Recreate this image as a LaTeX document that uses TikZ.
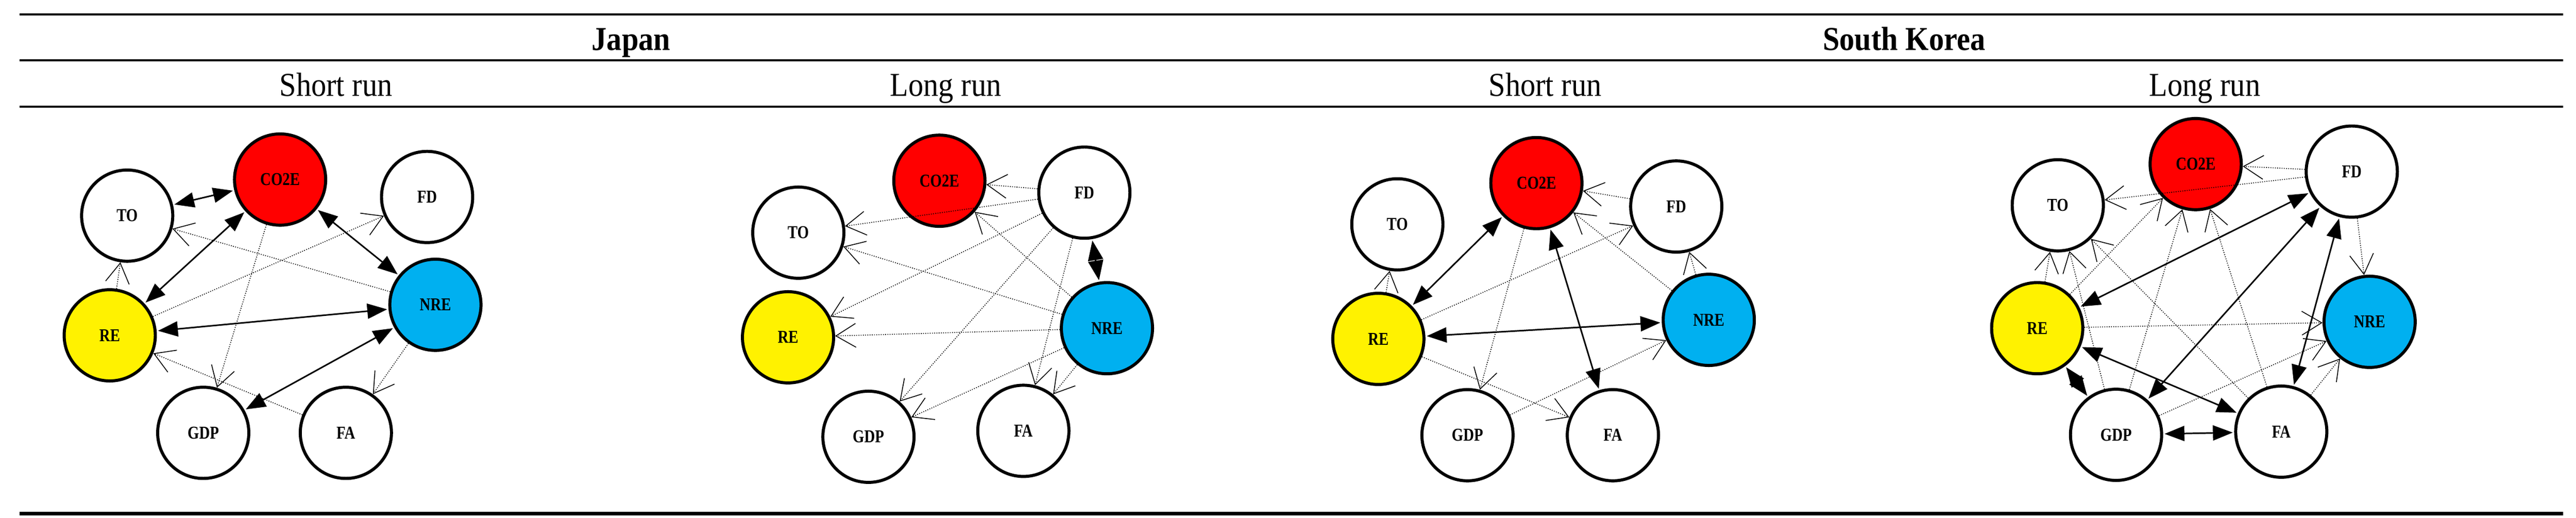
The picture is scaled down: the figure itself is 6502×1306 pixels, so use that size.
\documentclass[tikz,border=0pt]{standalone}
\usepackage{fontspec}
\setmainfont{Liberation Serif}
\newfontfamily\nodefont{Liberation Serif}[FakeStretch=0.82]
\newfontfamily\headfont{Liberation Serif}[FakeStretch=0.9]
\usetikzlibrary{arrows.meta}
\definecolor{nreblue}{RGB}{0,176,240}
\begin{document}
\begin{tikzpicture}[x=0.01cm,y=-0.01cm,
  v/.style={circle,draw=black,line width=2.2pt,minimum size=2.3cm,inner sep=0pt,font=\nodefont\bfseries\fontsize{13}{13}\selectfont},
  bold/.style={line width=1.1pt,{Triangle[length=0.5cm,width=0.38cm]}-{Triangle[length=0.5cm,width=0.38cm]},shorten <=1pt,shorten >=1pt},
  thin/.style={line width=0.6pt,densely dotted,-{Straight Barb[length=0.5cm,width=0.6cm,line width=0.6pt,sep]},arrows={-{Straight Barb[length=0.5cm,width=0.6cm]}}},
  head/.style={font=\headfont\fontsize{24}{24}\selectfont,anchor=base},
  rule/.style={line width=1.5pt}]
\useasboundingbox (0,0) rectangle (6502,1306);
\draw[rule] (50,36) -- (6470,36);
\draw[rule] (50,152) -- (6470,152);
\draw[rule] (50,269) -- (6470,269);
\draw[line width=2.6pt] (50,1296) -- (6470,1296);
\node[head,font=\headfont\bfseries\fontsize{24}{24}\selectfont] (hj) at (1593,127) {Japan};
\node[head,font=\headfont\bfseries\fontsize{24}{24}\selectfont] (hk) at (4806,127) {South Korea};
\node[head] (h1) at (848,243) {Short run};
\node[head] (h2) at (2387,243) {Long run};
\node[head] (h3) at (3900,243) {Short run};
\node[head] (h4) at (5565,243) {Long run};

% Panel 1
\node[v] (to1) at (321,544) {TO};
\node[v,fill=red] (co1) at (707,453) {CO2E};
\node[v] (fd1) at (1078,497) {FD};
\node[v,fill=yellow] (re1) at (277,846) {RE};
\node[v,fill=nreblue] (nr1) at (1099,769) {NRE};
\node[v] (gd1) at (513,1092) {GDP};
\node[v] (fa1) at (873,1092) {FA};
\draw[bold] (to1) -- (co1);
\draw[bold] (co1) -- (nr1);
\draw[bold] (re1) -- (co1);
\draw[bold] (re1) -- (nr1);
\draw[bold] (gd1) -- (nr1);
\draw[thin] (nr1) -- (to1);
\draw[thin] (re1) -- (fd1);
\draw[thin] (re1) -- (to1);
\draw[thin] (co1) -- (gd1);
\draw[thin] (fa1) -- (re1);
\draw[thin] (nr1) -- (fa1);

% Panel 2
\node[v] (to2) at (2015,587) {TO};
\node[v,fill=red] (co2) at (2371,456) {CO2E};
\node[v] (fd2) at (2737,486) {FD};
\node[v,fill=yellow] (re2) at (1989,851) {RE};
\node[v,fill=nreblue] (nr2) at (2794,828) {NRE};
\node[v] (gd2) at (2192,1102) {GDP};
\node[v] (fa2) at (2583,1087) {FA};
\draw[thin] (fd2) -- (co2);
\draw[thin] (fd2) -- (to2);
\draw[thin] (nr2) -- (co2);
\draw[thin] (nr2) -- (to2);
\draw[thin] (fd2) -- (re2);
\draw[thin] (nr2) -- (re2);
\draw[thin] (fd2) -- (gd2);
\draw[thin] (nr2) -- (gd2);
\draw[thin] (fd2) -- (fa2);
\draw[thin] (nr2) -- (fa2);
\draw[bold] (fd2) -- (nr2);

% Panel 3
\node[v] (to3) at (3527,566) {TO};
\node[v,fill=red] (co3) at (3878,462) {CO2E};
\node[v] (fd3) at (4231,521) {FD};
\node[v,fill=yellow] (re3) at (3479,855) {RE};
\node[v,fill=nreblue] (nr3) at (4313,807) {NRE};
\node[v] (gd3) at (3704,1098) {GDP};
\node[v] (fa3) at (4071,1098) {FA};
\draw[bold] (re3) -- (co3);
\draw[bold] (re3) -- (nr3);
\draw[bold] (co3) -- (fa3);
\draw[thin] (fd3) -- (co3);
\draw[thin] (nr3) -- (co3);
\draw[thin] (re3) -- (fd3);
\draw[thin] (nr3) -- (fd3);
\draw[thin] (re3) -- (to3);
\draw[thin] (co3) -- (gd3);
\draw[thin] (re3) -- (fa3);
\draw[thin] (gd3) -- (nr3);

% Panel 4
\node[v] (to4) at (5194,518) {TO};
\node[v,fill=red] (co4) at (5542,414) {CO2E};
\node[v] (fd4) at (5936,433) {FD};
\node[v,fill=yellow] (re4) at (5142,828) {RE};
\node[v,fill=nreblue] (nr4) at (5981,812) {NRE};
\node[v] (gd4) at (5341,1097) {GDP};
\node[v] (fa4) at (5758,1089) {FA};
\draw[thin] (fd4) -- (co4);
\draw[thin] (fd4) -- (to4);
\draw[thin] (re4) -- (co4);
\draw[thin] (re4) -- (to4);
\draw[thin] (gd4) -- (to4);
\draw[thin] (fa4) -- (to4);
\draw[thin] (gd4) -- (co4);
\draw[thin] (fa4) -- (co4);
\draw[thin] (fd4) -- (nr4);
\draw[thin] (re4) -- (nr4);
\draw[thin] (gd4) -- (nr4);
\draw[thin] (fa4) -- (nr4);
\draw[bold] (re4) -- (fd4);
\draw[bold] (gd4) -- (fd4);
\draw[bold] (fa4) -- (fd4);
\draw[bold] (re4) -- (fa4);
\draw[bold] (re4) -- (gd4);
\draw[bold] (gd4) -- (fa4);
\end{tikzpicture}
\end{document}
